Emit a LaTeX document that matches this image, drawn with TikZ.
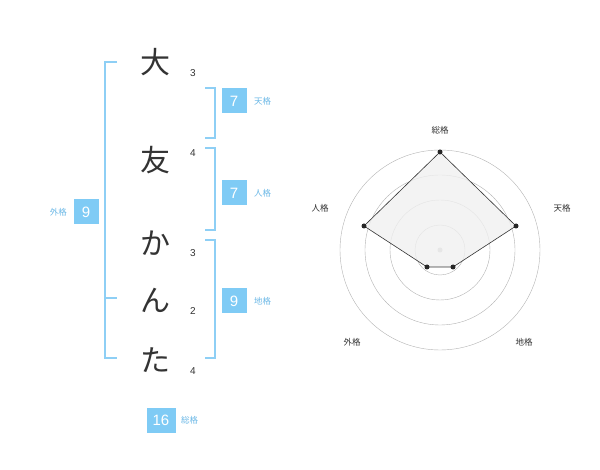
\documentclass[tikz,border=0pt]{standalone}
\usepackage{fontspec}
\usetikzlibrary{positioning,calc}
\setmainfont{Liberation Sans}
\newfontfamily\jp{Noto Sans CJK JP}
\definecolor{bracketblue}{HTML}{8ECFF5}
\definecolor{boxblue}{HTML}{7FCBF5}
\definecolor{labelblue}{HTML}{6CB8E6}
\tikzset{
  kanji/.style={font=\jp\fontsize{30}{30}\selectfont, text=black!80},
  strokes/.style={font=\fontsize{10}{10}\selectfont, text=black!80},
  kakubox/.style={fill=boxblue, text=white, minimum width=25pt, minimum height=25pt, inner sep=0pt, font=\fontsize{15}{15}\selectfont},
  kakulabel/.style={text=labelblue, font=\jp\fontsize{8.5}{9}\selectfont},
  brk/.style={draw=bracketblue, line width=1.2pt},
  ring/.style={draw=black!30, line width=0.4pt},
  axislabel/.style={text=black!80, font=\jp\fontsize{8.5}{9}\selectfont},
  pt/.style={circle, fill=black!85, inner sep=0pt, minimum size=5pt}
}
\begin{document}
\begin{tikzpicture}[x=1pt,y=-1pt]
  \useasboundingbox (0,0) rectangle (600,470);
  % name characters
  \node[kanji] (c1) at (155,62) {大};
  \node[kanji] (c2) at (155,160) {友};
  \node[kanji] (c3) at (155,243) {か};
  \node[kanji] (c4) at (155,300) {ん};
  \node[kanji] (c5) at (155,360) {た};
  \node[strokes] (s1) at (193,73) {3};
  \node[strokes] (s2) at (193,153) {4};
  \node[strokes] (s3) at (193,253) {3};
  \node[strokes] (s4) at (193,311) {2};
  \node[strokes] (s5) at (193,371) {4};
  % brackets
  \draw[brk] (117,62) -- (105,62) -- (105,358) -- (117,358);
  \draw[brk] (105,298) -- (117,298);
  \draw[brk] (205,88) -- (215,88) -- (215,138) -- (205,138);
  \draw[brk] (205,148) -- (215,148) -- (215,230) -- (205,230);
  \draw[brk] (205,240) -- (215,240) -- (215,358) -- (205,358);
  % boxes
  \node[kakubox] (ten) at (234,101) {7};
  \node[kakulabel, right=4pt of ten] (tenl) {天格};
  \node[kakubox] (jin) at (234,193) {7};
  \node[kakulabel, right=4pt of jin] (jinl) {人格};
  \node[kakubox] (chi) at (234,301) {9};
  \node[kakulabel, right=4pt of chi] (chil) {地格};
  \node[kakubox] (gai) at (86,212) {9};
  \node[kakulabel, left=3pt of gai] (gail) {外格};
  \node[kakubox, minimum width=29pt] (sou) at (161,420) {16};
  \node[kakulabel, right=2pt of sou] (soul) {総格};
  % radar
  \coordinate (o) at (440,250);
  \foreach \r in {25,50,75,100}
    \draw[ring] (o) circle (\r);
  \fill[black!25] (o) circle (2.5);
  \coordinate (p1) at ($(o)+(0,-98)$);
  \coordinate (p2) at ($(o)+(76,-24)$);
  \coordinate (p3) at ($(o)+(13,17)$);
  \coordinate (p4) at ($(o)+(-13,17)$);
  \coordinate (p5) at ($(o)+(-76,-24)$);
  \filldraw[fill=black!6, draw=black!80, line width=0.6pt, fill opacity=0.8] (p1) -- (p2) -- (p3) -- (p4) -- (p5) -- cycle;
  \foreach \p in {p1,p2,p3,p4,p5}
    \node[pt] at (\p) {};
  \node[axislabel] (a1) at (440,130) {総格};
  \node[axislabel] (a2) at (562,208) {天格};
  \node[axislabel] (a3) at (524,342) {地格};
  \node[axislabel] (a4) at (352,342) {外格};
  \node[axislabel] (a5) at (320,208) {人格};
\end{tikzpicture}
\end{document}
